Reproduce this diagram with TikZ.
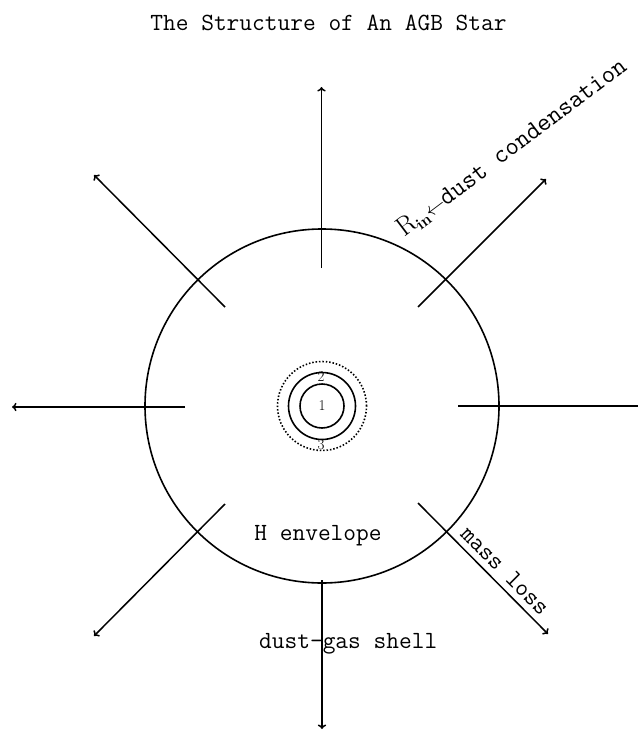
\documentclass[tikz,border=0pt]{standalone}
\usetikzlibrary{arrows.meta}
\begin{document}
\begin{tikzpicture}[x=1pt,y=-1pt, line width=1.5pt,
  arr/.style={-{To[length=4.5pt,width=8.5pt]}},
  lbl/.style={font=\fontsize{24.7}{30}\selectfont\ttfamily, inner sep=0pt},
  num/.style={font=\fontsize{15}{17}\selectfont, inner sep=0pt},
  ring/.style={circle, draw, inner sep=0pt, line width=1.6pt}]
\useasboundingbox (0,0) rectangle (638,730);
% title
\node[lbl, anchor=base] (title) at (328.5,30.5) {The Structure of An AGB Star};
% envelope and core
\node[ring, minimum size=354pt] (env) at (322,406) {};
\node[ring, minimum size=89pt, dash pattern=on 1.5pt off 1.9pt] (dust) at (322,406) {};
\node[ring, minimum size=67pt] (shell) at (322,406) {};
\node[ring, minimum size=44pt, num] (core) at (322,406) {1};
\node[num] (l2) at (321,377) {2};
\node[num] (l3) at (321,445) {3};
% arrow end points
\coordinate (tin) at (321.5,268); \coordinate (tout) at (321.5,87);
\coordinate (bin) at (322,580);   \coordinate (bout) at (322,729);
\coordinate (lin) at (185,407);   \coordinate (lout) at (12,407);
\coordinate (rin) at (458,406);   \coordinate (rout) at (638,406);
\coordinate (ulin) at (225,307);  \coordinate (ulout) at (94,175);
\coordinate (urin) at (418,307);  \coordinate (urout) at (546,179);
\coordinate (llin) at (225,504);  \coordinate (llout) at (94,636);
\coordinate (lrin) at (418,503);  \coordinate (lrout) at (548,634);
\draw[arr] (tin) -- (tout);
\draw[arr] (bin) -- (bout);
\draw[arr] (lin) -- (lout);
\draw (rin) -- (rout);
\draw[arr] (ulin) -- (ulout);
\draw[arr] (urin) -- (urout);
\draw[arr] (llin) -- (llout);
\draw[arr] (lrin) -- (lrout);
% labels
\node[lbl, anchor=base] (henv) at (318,540) {H envelope};
\node[lbl, anchor=base east] (dg1) at (323.5,648) {dust-};
\node[lbl, anchor=base west] (dg2) at (322,648) {gas shell};
\node[lbl, anchor=base, rotate=-45] (mloss) at (500,576) {mass loss};
\node[lbl, font=\fontsize{26}{30}\selectfont\ttfamily, anchor=base west, rotate=37] (rlab) at (404,238)
  {{\rmfamily\fontsize{27}{27}\selectfont R}\kern-1pt\raisebox{-4pt}{\rmfamily\bfseries\fontsize{16}{16}\selectfont in}{\fontsize{21}{21}\selectfont$\leftarrow$}\kern-1pt dust condensation};
\end{tikzpicture}
\end{document}
